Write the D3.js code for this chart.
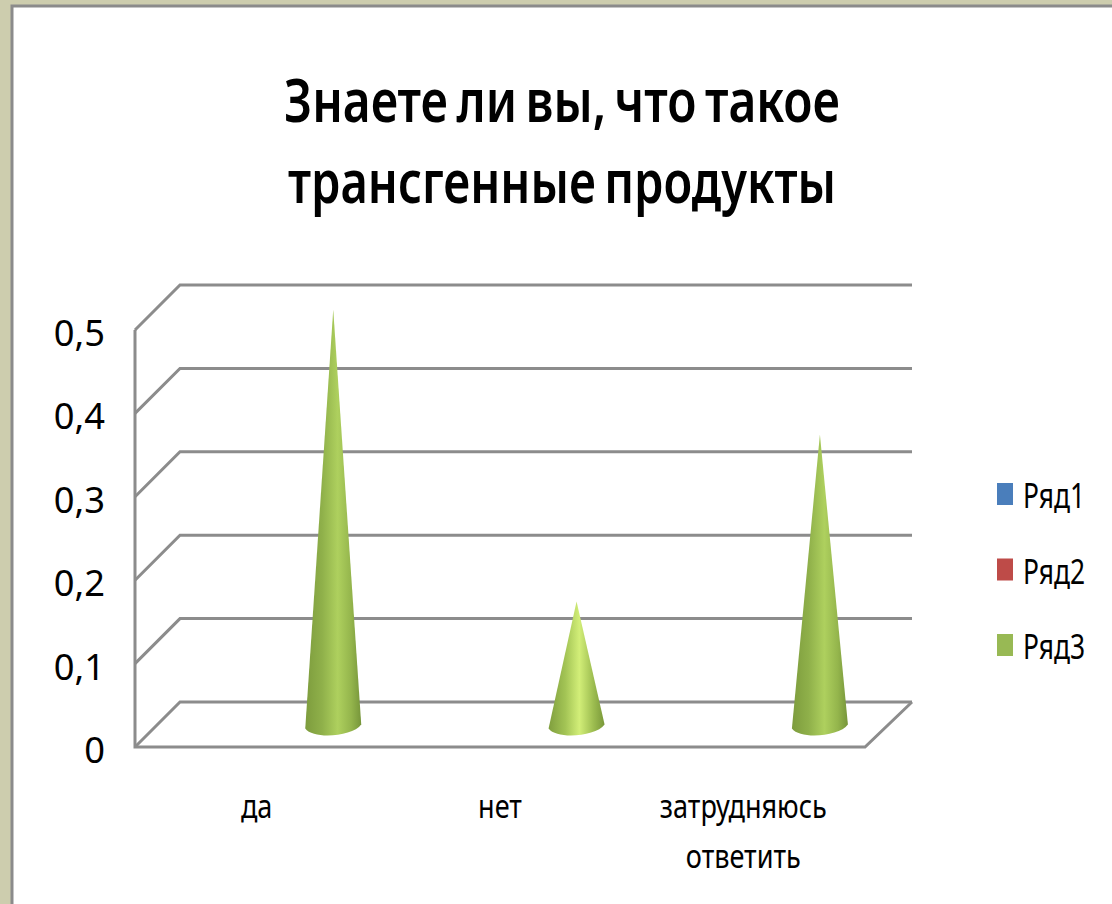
<!DOCTYPE html>
<html>
<head>
<meta charset="utf-8">
<script src="https://cdn.jsdelivr.net/npm/d3@7"></script>
<style>
  html, body { margin: 0; padding: 0; background: #fff; }
  svg { display: block; }
  text { fill: #000; }
</style>
</head>
<body>
<script>
const categories = ["да", "нет", "затрудняюсь ответить"];
const seriesNames = ["Ряд1", "Ряд2", "Ряд3"];
const ryad1 = [0, 0, 0];
const ryad2 = [0, 0, 0];
const ryad3 = [0.5, 0.15, 0.35];
const yTicks = [0, 0.1, 0.2, 0.3, 0.4, 0.5];
const titleLines = ["Знаете ли вы, что такое", "трансгенные продукты"];
const legendColors = ["#4a7ebb", "#be4b48", "#98b954"];

const width = 1112;
const height = 904;
const labelFont = "'Noto Sans', sans-serif";

const left = 135, right = 865, floorY = 747, topY = 330;
const depthX = 45, depthY = 45;

// labels in the picture are tall and narrow, so squash them sideways
function squeeze(sel, k) {
    sel.each(function() {
        const len = this.getComputedTextLength();
        d3.select(this).attr("textLength", len * k).attr("lengthAdjust", "spacingAndGlyphs");
    });
}

const svg = d3.select("body").append("svg")
    .attr("width", width)
    .attr("height", height);

// slide frame
svg.append("rect").attr("width", width).attr("height", height).attr("fill", "#cdcdae");
svg.append("rect").attr("x", 12).attr("y", 6).attr("width", width).attr("height", height)
    .attr("fill", "#fff").attr("stroke", "#8b8b8b").attr("stroke-width", 3);

const defs = svg.append("defs");
const grad = defs.append("linearGradient").attr("id", "cone");
[[0, "#7d9c3d"], [0.3, "#8fb04a"], [0.58, "#aed05e"], [0.82, "#94b54c"], [1, "#76953a"]]
    .forEach(s => grad.append("stop").attr("offset", s[0]).attr("stop-color", s[1]));
const grad2 = defs.append("linearGradient").attr("id", "coneLight");
[[0, "#7f9e3e"], [0.3, "#a3c455"], [0.55, "#d2ee78"], [0.8, "#9dbd50"], [1, "#789739"]]
    .forEach(s => grad2.append("stop").attr("offset", s[0]).attr("stop-color", s[1]));

const y = d3.scaleLinear().domain([0, 0.5]).range([floorY, topY]);
const x0 = d3.scaleBand().domain(categories).range([left, right]);
const x1 = d3.scaleBand().domain(seriesNames).range([0, x0.bandwidth()]).paddingInner(0).paddingOuter(0.75);

// walls and floor
const grid = svg.append("g").attr("fill", "none").attr("stroke", "#8c8c8c").attr("stroke-width", 3);
yTicks.forEach(t => {
    grid.append("path").attr("d", d3.line()([
        [left, y(t)],
        [left + depthX, y(t) - depthY],
        [right + depthX + 2, y(t) - depthY]
    ]));
});
grid.append("path").attr("d", d3.line()([
    [left, y(0.5)], [left, floorY], [right, floorY], [right + depthX + 2, floorY - depthY]
]));

// axes
const yAxis = d3.axisLeft(y).tickValues(yTicks).tickSize(0).tickPadding(30)
    .tickFormat(d => String(d).replace(".", ","));
const yG = svg.append("g").attr("transform", `translate(${left},0)`).call(yAxis);
yG.select(".domain").remove();
yG.selectAll("text")
    .attr("font-family", labelFont).attr("font-size", 37).attr("fill", "#000")
    .attr("dy", "0.42em")
    .call(squeeze, 0.98);

categories.forEach(c => {
    c.split(" ").forEach((l, i) => {
        svg.append("text")
            .attr("x", x0(c) + x0.bandwidth() / 2)
            .attr("y", 818 + i * 50)
            .attr("text-anchor", "middle")
            .attr("font-family", labelFont)
            .attr("font-size", 33)
            .text(l)
            .call(squeeze, 0.82);
    });
});

// cones, the first two series are all zero so they draw nothing
const seriesData = [ryad1, ryad2, ryad3];
const rx = 28, ry = 9;
seriesData.forEach((vals, si) => {
    vals.forEach((v, ci) => {
        if (v === 0) return;
        const cx = x0(categories[ci]) + x1(seriesNames[si]) + x1.bandwidth() / 2 + depthX / 2;
        const base = floorY - depthY / 2 + 2;
        const apex = y(v) - (floorY - base);
        const p = d3.path();
        p.moveTo(cx - rx, base + 2);
        p.lineTo(cx, apex);
        p.lineTo(cx + rx, base - 2);
        p.bezierCurveTo(cx + rx * 0.7, base + ry * 1.1, cx - rx * 0.7, base + ry * 1.5, cx - rx, base + 2);
        p.closePath();
        svg.append("path").attr("d", p.toString())
            .attr("fill", ci === 1 ? "url(#coneLight)" : "url(#cone)");
    });
});

// title
titleLines.forEach((t, i) => {
    svg.append("text")
        .attr("x", 562)
        .attr("y", 122 + i * 81)
        .attr("text-anchor", "middle")
        .attr("font-family", labelFont)
        .attr("font-weight", 600)
        .attr("font-size", 60)
        .attr("word-spacing", -5)
        .attr("textLength", i === 0 ? 556 : 548)
        .attr("lengthAdjust", "spacingAndGlyphs")
        .text(t);
});

// legend
const legendY = d3.scalePoint().domain(seriesNames).range([494, 645]);
seriesNames.forEach((s, i) => {
    svg.append("rect")
        .attr("x", 997).attr("y", legendY(s) - 11)
        .attr("width", 16).attr("height", 22)
        .attr("fill", legendColors[i]);
    svg.append("text")
        .attr("x", 1023).attr("y", legendY(s) + 14)
        .attr("font-family", labelFont)
        .attr("font-size", 35)
        .attr("textLength", 62)
        .attr("lengthAdjust", "spacingAndGlyphs")
        .text(s);
});
</script>
</body>
</html>
